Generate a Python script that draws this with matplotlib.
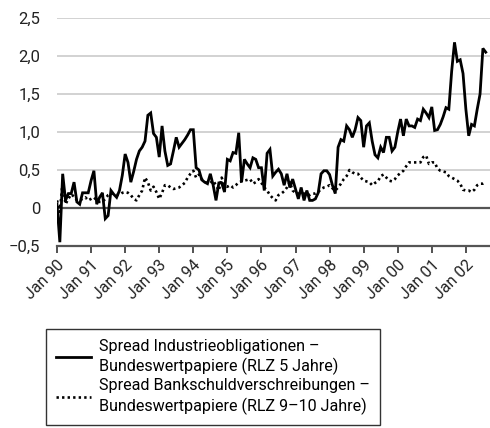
import numpy as np
import matplotlib
matplotlib.use("Agg")
import matplotlib.pyplot as plt
import matplotlib.transforms as mtransforms

# Monatswerte ab Januar 1990 (Prozentpunkte)
industrie = [
    0.05, -0.45, 0.45, 0.10, 0.19, 0.19, 0.34, 0.08, 0.05, 0.20, 0.20, 0.20,
    0.36, 0.49, 0.05, 0.14, 0.20, -0.14, -0.10, 0.23, 0.18, 0.14, 0.23, 0.43,
    0.71, 0.60, 0.34, 0.48, 0.64, 0.75, 0.80, 0.88, 1.22, 1.25, 0.98, 0.93,
    0.67, 1.08, 0.75, 0.56, 0.58, 0.75, 0.93, 0.80, 0.85, 0.90, 0.96, 1.03,
    1.03, 0.53, 0.50, 0.37, 0.34, 0.32, 0.45, 0.30, 0.10, 0.33, 0.33, 0.21,
    0.64, 0.62, 0.73, 0.72, 0.99, 0.34, 0.64, 0.58, 0.53, 0.66, 0.64, 0.53,
    0.53, 0.23, 0.72, 0.77, 0.42, 0.47, 0.51, 0.45, 0.30, 0.45, 0.27, 0.38,
    0.25, 0.12, 0.27, 0.10, 0.23, 0.10, 0.10, 0.12, 0.20, 0.45, 0.49, 0.49,
    0.44, 0.30, 0.19, 0.80, 0.90, 0.88, 1.08, 1.03, 0.93, 1.03, 1.19, 1.15,
    0.80, 1.08, 1.12, 0.88, 0.70, 0.66, 0.80, 0.73, 0.93, 0.93, 0.75, 0.80,
    1.00, 1.17, 0.95, 1.17, 1.08, 1.08, 1.06, 1.17, 1.15, 1.30, 1.25, 1.19,
    1.33, 1.02, 1.03, 1.10, 1.20, 1.32, 1.30, 1.80, 2.18, 1.93, 1.95, 1.77,
    1.30, 0.95, 1.10, 1.08, 1.30, 1.50, 2.10, 2.05,
]
bank = [
    0.10, -0.05, 0.35, 0.05, 0.12, 0.18, 0.15, 0.10, 0.10, 0.12, 0.14, 0.10,
    0.12, 0.14, 0.10, 0.08, 0.08, 0.12, 0.17, 0.19, 0.19, 0.18, 0.17, 0.20,
    0.21, 0.20, 0.17, 0.12, 0.10, 0.17, 0.23, 0.40, 0.34, 0.23, 0.28, 0.21,
    0.12, 0.20, 0.30, 0.30, 0.27, 0.25, 0.26, 0.27, 0.30, 0.33, 0.40, 0.45,
    0.49, 0.40, 0.44, 0.38, 0.34, 0.33, 0.33, 0.36, 0.30, 0.23, 0.40, 0.30,
    0.28, 0.30, 0.27, 0.30, 0.34, 0.35, 0.36, 0.37, 0.38, 0.32, 0.34, 0.38,
    0.33, 0.27, 0.23, 0.17, 0.13, 0.10, 0.17, 0.19, 0.22, 0.27, 0.34, 0.23,
    0.20, 0.19, 0.19, 0.19, 0.18, 0.17, 0.19, 0.19, 0.21, 0.25, 0.27, 0.28,
    0.30, 0.26, 0.23, 0.27, 0.32, 0.38, 0.42, 0.50, 0.47, 0.45, 0.45, 0.40,
    0.36, 0.35, 0.34, 0.30, 0.33, 0.35, 0.42, 0.44, 0.40, 0.36, 0.35, 0.38,
    0.43, 0.46, 0.49, 0.55, 0.60, 0.60, 0.60, 0.60, 0.60, 0.67, 0.69, 0.58,
    0.60, 0.60, 0.52, 0.49, 0.48, 0.47, 0.42, 0.40, 0.38, 0.36, 0.32, 0.24,
    0.23, 0.23, 0.21, 0.24, 0.30, 0.32, 0.32, 0.34,
]
jahre = ["90", "91", "92", "93", "94", "95", "96", "97", "98", "99", "00", "01", "02"]
y_ticks = [-0.5, 0, 0.5, 1.0, 1.5, 2.0, 2.5]
y_labels = ["\u22120,5", "0", "0,5", "1,0", "1,5", "2,0", "2,5"]
legende = [
    "Spread Industrieobligationen \u2013\nBundeswertpapiere (RLZ 5 Jahre)",
    "Spread Bankschuldverschreibungen \u2013\nBundeswertpapiere (RLZ 9\u201310 Jahre)",
]

plt.rcParams["font.family"] = ["Roboto", "DejaVu Sans"]
plt.rcParams["font.size"] = 12

fig = plt.figure(figsize=(4.9, 4.28), dpi=100)
ax = fig.add_axes([57 / 490, 1 - 246 / 428, 433 / 490, 228 / 428])

monate = np.arange(len(industrie))
ax.plot(monate, industrie, color="black", lw=2.0, solid_joinstyle="miter",
        label=legende[0], zorder=4)
ax.plot(monate, bank, color="black", lw=1.9, linestyle=(0, (0.9, 1.2)),
        label=legende[1], zorder=3)

ax.set_xlim(0, 152.5)
ax.set_ylim(-0.5, 2.5)

# Gitterlinien und Nulllinie
for v in y_ticks[2:]:
    ax.axhline(v, color="#cfcfcf", lw=1.3, zorder=1)
ax.axhline(0, color="#555555", lw=1.6, zorder=2)

ax.set_yticks(y_ticks)
ax.set_yticklabels(y_labels)
ax.tick_params(axis="y", length=0, pad=12, labelsize=12, colors="#222222")

ax.set_xticks(np.arange(len(jahre)) * 12)
ax.set_xticklabels(["Jan " + j for j in jahre], rotation=45, ha="right",
                   va="center", rotation_mode="anchor")
ax.tick_params(axis="x", length=5, width=1.2, color="#333333", pad=7,
               labelsize=11.5, colors="#222222")
shift = mtransforms.ScaledTranslation(5 / 100, 0, fig.dpi_scale_trans)
for lbl in ax.get_xticklabels():
    lbl.set_transform(lbl.get_transform() + shift)

for side in ["left", "right", "top"]:
    ax.spines[side].set_visible(False)
ax.spines["bottom"].set_color("#555555")
ax.spines["bottom"].set_linewidth(1.6)

leg = fig.legend(loc="upper left", bbox_to_anchor=(41 / 490, 1 - 324 / 428),
                 frameon=True, fancybox=False, edgecolor="black",
                 handlelength=2.2, handletextpad=0.5, borderpad=0.6,
                 borderaxespad=0.3, labelspacing=0.2, fontsize=11.6)
leg.get_frame().set_linewidth(1.0)
for t in leg.get_texts():
    t.set_linespacing(1.32)

fig.savefig("out.png", dpi=100)
